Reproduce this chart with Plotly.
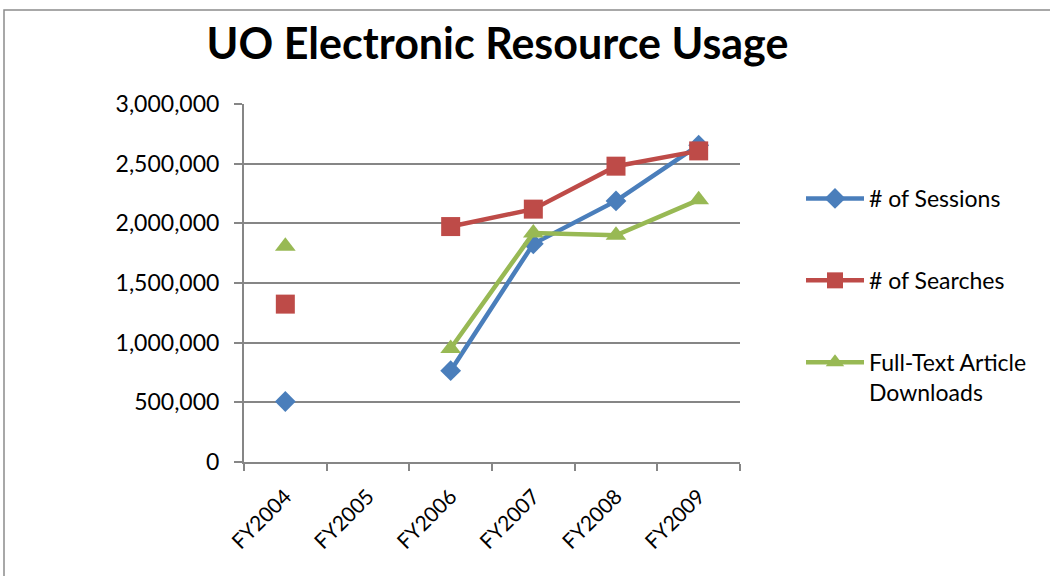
import plotly.graph_objects as go

# Fiscal years and annual usage counts (FY2005 not reported)
years = ["FY2004", "FY2005", "FY2006", "FY2007", "FY2008", "FY2009"]
sessions = [507000, None, 765000, 1828000, 2188000, 2655000]
searches = [1323000, None, 1973000, 2119000, 2479000, 2607000]
downloads = [1809000, None, 951000, 1918000, 1900000, 2197000]

y_ticks = [0, 500000, 1000000, 1500000, 2000000, 2500000, 3000000]

FONT = "Lato"
GRID = "#868686"

# plot-area pixel box
L, R, T, B = 244, 740, 104, 462
W, H = R - L, B - T

series = [
    ("# of Sessions", sessions, "#4A7EBB", "diamond", 16),
    ("# of Searches", searches, "#BE4B48", "square", 19),
    ("Full-Text Article<br>Downloads", downloads, "#98B954", "triangle-up", 18),
]

fig = go.Figure()
for i, (name, vals, color, sym, size) in enumerate(series):
    fig.add_trace(go.Scatter(
        x=years, y=vals, name=name, mode="lines+markers",
        connectgaps=False, legendgroup=f"g{i}",
        line=dict(color=color, width=4.5),
        marker=dict(symbol=sym, size=size, color=color, line=dict(width=0)),
    ))

fig.update_layout(
    width=1050, height=576,
    paper_bgcolor="white", plot_bgcolor="white",
    margin=dict(l=L, r=1050 - R, t=T, b=576 - B),
    title=dict(
        text="<b>UO Electronic Resource Usage</b>",
        x=0.5 + ((205 + 790) / 2 - (L + R) / 2) / W, xanchor="center", xref="paper",
        y=1 - 44 / 576, yanchor="middle", yref="container",
        font=dict(family=FONT, size=43, color="black"),
    ),
    font=dict(family=FONT, color="black"),
    legend=dict(
        x=(801 - L) / W, xanchor="left",
        y=1 - (177 - T) / H, yanchor="top",
        font=dict(family=FONT, size=23, color="black"),
        tracegroupgap=49, valign="top", itemwidth=58,
        bgcolor="rgba(0,0,0,0)",
    ),
    showlegend=True,
)

fig.update_xaxes(
    type="category", categoryorder="array", categoryarray=years,
    tickson="boundaries", ticks="outside", ticklen=7, tickwidth=2, tickcolor=GRID,
    showline=True, linecolor=GRID, linewidth=2,
    showgrid=False, tickangle=-45, ticklabelstandoff=12,
    tickfont=dict(family=FONT, size=21, color="black"),
    range=[-0.5, 5.5],
)
fig.update_yaxes(
    range=[0, 3000000], tickvals=y_ticks, tickformat=",d",
    ticks="outside", ticklen=8, tickwidth=2, tickcolor=GRID,
    showline=True, linecolor=GRID, linewidth=2,
    showgrid=True, gridcolor=GRID, gridwidth=2, zeroline=False,
    ticklabelstandoff=10,
    tickfont=dict(family=FONT, size=23, color="black"),
)

# chart-area frame
fig.add_shape(
    type="rect", xref="paper", yref="paper",
    x0=(4 - L) / W, x1=(1060 - L) / W,
    y0=(B - 590) / H, y1=1 + (T - 10) / H,
    line=dict(color="#8C8C8C", width=1.5), fillcolor="rgba(0,0,0,0)",
    layer="below",
)

fig.write_html("out.html")
